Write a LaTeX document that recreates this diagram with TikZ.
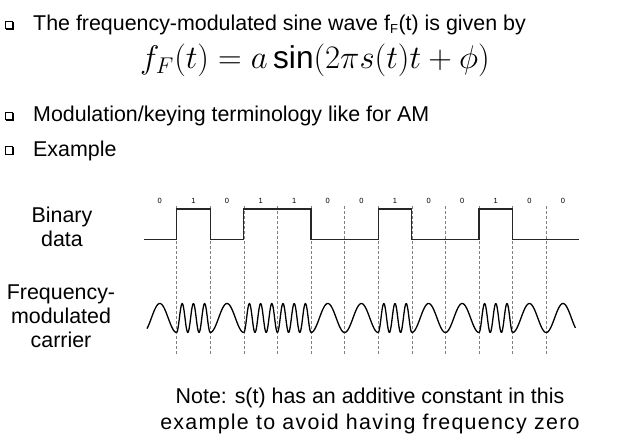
\documentclass[tikz,border=0pt]{standalone}
\usepackage{fontspec}
\setmainfont{Liberation Sans}
\begin{document}
\begin{tikzpicture}[x=1pt,y=-1pt,
  txt/.style={font=\fontsize{21.4}{25}\selectfont, inner sep=0pt},
  lbl/.style={font=\fontsize{21.4}{25}\selectfont, inner sep=0pt, anchor=base},
  bitlbl/.style={font=\fontsize{7.5}{8}\selectfont, inner sep=0pt},
  sig/.style={line width=1.2pt, black!85},
  wave/.style={line width=1.3pt, black},
  grid/.style={gray, line width=0.6pt, dash pattern=on 3pt off 2pt},
  qbox/.pic={
    \draw[line width=0.5pt] (0,0) rectangle (7.5,7.5);
    \fill (1,7.5) rectangle (8.8,8.9);
    \fill (7.5,1) rectangle (8.8,8.9);
  }]
\useasboundingbox (0,0) rectangle (620,438);

% bullets
\pic at (5,21) {qbox};
\pic at (5,112) {qbox};
\pic at (5,146.5) {qbox};
\node[txt, anchor=base west] (b1) at (33,30.5) {The frequency-modulated sine wave f\textsubscript{\fontsize{13}{13}\selectfont F}(t) is given by};
\node[inner sep=0pt, anchor=base, font=\fontsize{20}{24}\selectfont] (eq) at (315,69) {\scalebox{1.58}{$f_F(t) = a\sin(2\pi s(t)t+\phi)$}};
\node[txt, anchor=base west] (b2) at (33,121.7) {Modulation/keying terminology like for AM};
\node[txt, anchor=base west] (b3) at (33,156.5) {Example};

% labels
\node[lbl] (lb1) at (62,222.5) {Binary};
\node[lbl] (lb2) at (62,246.5) {data};
\node[lbl] (lf1) at (61,299) {Frequency-};
\node[lbl] (lf2) at (61,323) {modulated};
\node[lbl] (lf3) at (61,347.5) {carrier};

% note
\node[lbl] (note1) at (370,403) {Note: s(t) has an additive constant in this};
\node[lbl] (note2) at (370,429) {\addfontfeatures{LetterSpace=6}example to avoid having frequency zero};

% bit grid
\def\xo{143}
\def\bw{33.6}
\foreach \i in {1,...,12}{
  \draw[grid] ({\xo+\bw*\i},206) -- ({\xo+\bw*\i},355);
}
% bit labels
\foreach \b [count=\i from 0] in {0,1,0,1,1,0,0,1,0,0,1,0,0}{
  \node[bitlbl] (bl\i) at ({\xo+\bw*(\i+0.5)},201) {\b};
}
% square wave
\draw[sig] (144,239.5) -- (176.6,239.5) -- (176.6,209) -- (210.2,209) -- (210.2,239.5)
  -- (243.8,239.5) -- (243.8,209) -- (311,209) -- (311,239.5)
  -- (378.2,239.5) -- (378.2,209) -- (411.8,209) -- (411.8,239.5)
  -- (479,239.5) -- (479,209) -- (512.6,209) -- (512.6,239.5) -- (579,239.5);

% FM carrier
\foreach \b [count=\i from 0] in {0,1,0,1,1,0,0,1,0,0,1,0,0}{
  \pgfmathsetmacro{\n}{\b==1 ? 3 : 1}
  \pgfmathsetmacro{\ua}{\i==0 ? 0.12 : 0}
  \pgfmathsetmacro{\ub}{\i==12 ? 0.87 : 1}
  \draw[wave, line join=round] plot[domain=\ua:\ub, samples=60, smooth]
    ({\xo+\bw*(\i+\x)}, {318+14.5*cos(360*\n*\x)});
}
\end{tikzpicture}
\end{document}
